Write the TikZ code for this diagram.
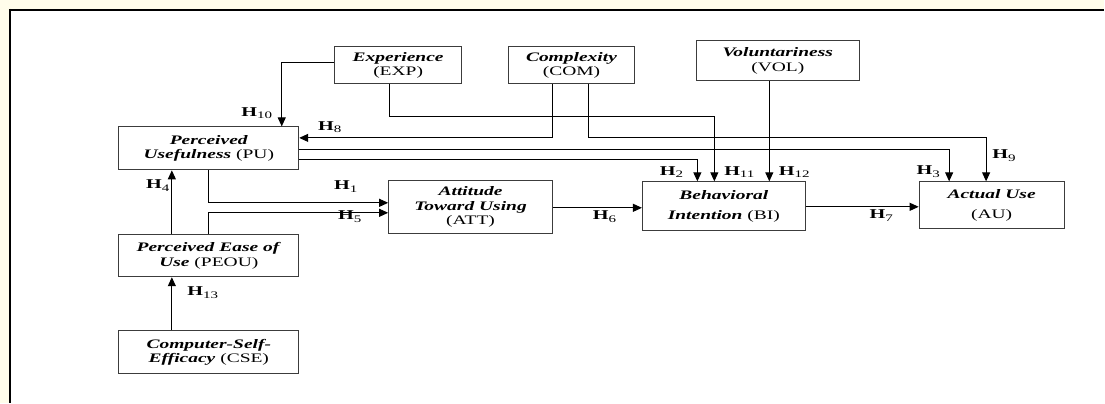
\documentclass[tikz,border=0pt]{standalone}
\usepackage{fontspec}
\setmainfont{Liberation Serif}[FakeStretch=1.5]
\usetikzlibrary{arrows.meta,calc}
\definecolor{cream}{RGB}{255,253,234}
\definecolor{boxline}{RGB}{60,60,60}
\newcommand\nm[1]{\textbf{\textit{#1}}}
\newcommand\hh[1]{\textbf{H}\raisebox{-2.5pt}{\fontsize{10}{10}\selectfont #1}}
\tikzset{
 box/.style={draw=boxline,line width=1pt,fill=white,inner sep=1pt,align=center,font=\fontsize{13}{14.5}\selectfont},
 conn/.style={draw=black,line width=1pt},
 arr/.style={conn,-{Triangle[length=9pt,width=8pt]}},
 hl/.style={font=\fontsize{13.5}{14}\selectfont,inner sep=0pt},
}
\begin{document}
\begin{tikzpicture}[x=1pt,y=-1pt]
\fill[cream] (0,0) rectangle (1105,403);
\fill[white] (9,9) rectangle (1105,403);
\draw[line width=2pt] (9,9.8) -- (1105,9.8);
\draw[line width=2pt] (9.8,9) -- (9.8,403);
\useasboundingbox (0,0) rectangle (1105,403);

\node[box,minimum width=180pt,minimum height=43pt] (PU) at (209,148.5) {\nm{Perceived}\\\nm{Usefulness} (PU)};
\node[box,minimum width=180pt,minimum height=42pt] (PEOU) at (209,256) {\nm{Perceived Ease of}\\\nm{Use} (PEOU)};
\node[box,minimum width=180pt,minimum height=43pt] (CSE) at (209,352.5) {\nm{Computer-Self-}\\\nm{Efficacy} (CSE)};
\node[box,minimum width=127pt,minimum height=37pt] (EXP) at (398.5,65.5) {\nm{Experience}\\(EXP)};
\node[box,minimum width=126pt,minimum height=37pt] (COM) at (572,65.5) {\nm{Complexity}\\(COM)};
\node[box,minimum width=163pt,minimum height=40pt] (VOL) at (778.5,61) {\nm{Voluntariness}\\(VOL)};
\node[box,minimum width=164pt,minimum height=53pt] (ATT) at (471,207.5) {\nm{Attitude}\\\nm{Toward Using}\\(ATT)};
\node[box,minimum width=163pt,minimum height=49pt] (BI) at (724.5,206.5) {\nm{Behavioral}\\[5pt]\nm{Intention} (BI)};
\node[box,minimum width=145pt,minimum height=47pt] (AU) at (992.5,205.5) {\nm{Actual Use}\\[5pt](AU)};

\coordinate (b10) at (282,63);
\coordinate (b11a) at (390,117);
\coordinate (b11b) at (715,117);
\coordinate (b8) at (553,138);
\coordinate (b9a) at (589,138);
\coordinate (b9b) at (987,138);
\coordinate (b3) at (950,150);
\coordinate (b2) at (698,160);
\coordinate (b12) at (770,0);
\coordinate (b1) at (209,203);
\coordinate (b5) at (209,213);
\coordinate (b4) at (172,0);
\coordinate (c208) at (0,208);
\coordinate (c207) at (0,207);

\draw[arr] (EXP.west |- b10) -- (b10) -- (b10 |- PU.north);
\draw[arr] (EXP.south -| b11a) -- (b11a) -- (b11b) -- (b11b |- BI.north);
\draw[arr] (COM.south -| b8) -- (b8) -- (PU.east |- b8);
\draw[arr] (COM.south -| b9a) -- (b9a) -- (b9b) -- (b9b |- AU.north);
\draw[arr] (PU.east |- b3) -- (b3) -- (b3 |- AU.north);
\draw[arr] (PU.east |- b2) -- (b2) -- (b2 |- BI.north);
\draw[arr] (VOL.south -| b12) -- (BI.north -| b12);
\draw[arr] (PU.south) -- (b1) -- (ATT.west |- b1);
\draw[arr] (PEOU.north) -- (b5) -- (ATT.west |- b5);
\draw[arr] (PEOU.north -| b4) -- (PU.south -| b4);
\draw[arr] (CSE.north -| b4) -- (PEOU.south -| b4);
\draw[arr] (ATT.east |- c208) -- (BI.west |- c208);
\draw[arr] (BI.east |- c207) -- (AU.west |- c207);

\node[hl] (h10) at (257,113) {\hh{10}};
\node[hl] (h8) at (330,127) {\hh{8}};
\node[hl] (h2) at (672,172) {\hh{2}};
\node[hl] (h11) at (740,172) {\hh{11}};
\node[hl] (h12) at (795,172) {\hh{12}};
\node[hl] (h3) at (929,172) {\hh{3}};
\node[hl] (h9) at (1005,156) {\hh{9}};
\node[hl] (h1) at (346,187) {\hh{1}};
\node[hl] (h5) at (350,217) {\hh{5}};
\node[hl] (h4) at (158,186) {\hh{4}};
\node[hl] (h13) at (203,293) {\hh{13}};
\node[hl] (h6) at (605,217) {\hh{6}};
\node[hl] (h7) at (882,216) {\hh{7}};
\end{tikzpicture}
\end{document}
